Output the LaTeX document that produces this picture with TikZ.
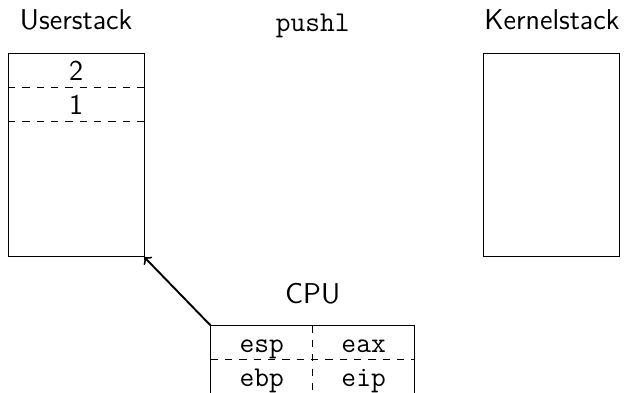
\documentclass[tikz,border=0pt,12pt]{standalone}

\begin{document}
\begin{tikzpicture}[font=\sffamily, every node/.style={anchor=base}]
    \useasboundingbox (0,0) rectangle (9.21,-5.77);

    \coordinate (user_top_left) at (0.12,-0.78);
    \coordinate (user_bottom_right) at (2.12,-3.78);
    \coordinate (user_row1_left) at (0.12,-1.28);
    \coordinate (user_row1_right) at (2.12,-1.28);
    \coordinate (user_row2_left) at (0.12,-1.78);
    \coordinate (user_row2_right) at (2.12,-1.78);
    \coordinate (kernel_top_left) at (7.12,-0.78);
    \coordinate (kernel_bottom_right) at (9.12,-3.78);

    \coordinate (cpu_top_left) at (3.1,-4.79);
    \coordinate (cpu_top_mid) at (4.6,-4.79);
    \coordinate (cpu_top_right) at (6.1,-4.79);
    \coordinate (cpu_mid_left) at (3.1,-5.29);
    \coordinate (cpu_mid_right) at (6.1,-5.29);
    \coordinate (cpu_bottom_left) at (3.1,-5.79);
    \coordinate (cpu_bottom_mid) at (4.6,-5.79);
    \coordinate (cpu_bottom_right) at (6.1,-5.79);

    \node (user_label) at (1.12,-0.43) {Userstack};
    \node (kernel_label) at (8.12,-0.43) {Kernelstack};
    \node (instr) at (4.6,-0.47) {\texttt{pushl}};
    \node (cpu_label) at (4.6,-4.46) {CPU};

    \path[draw=black] (user_top_left) rectangle (user_bottom_right);
    \path[draw=black, dashed] (user_row1_left) -- (user_row1_right);
    \path[draw=black, dashed] (user_row2_left) -- (user_row2_right);
    \node (user_two) at (1.12,-1.18) {2};
    \node (user_one) at (1.12,-1.69) {1};

    \path[draw=black] (kernel_top_left) rectangle (kernel_bottom_right);

    \path[draw=black] (cpu_bottom_left) -- (cpu_top_left) -- (cpu_top_right) -- (cpu_bottom_right);
    \path[draw=black, dashed] (cpu_mid_left) -- (cpu_mid_right);
    \path[draw=black, dashed] (cpu_top_mid) -- (cpu_bottom_mid);
    \node (reg_esp) at (3.85,-5.18) {\texttt{esp}};
    \node (reg_eax) at (5.35,-5.18) {\texttt{eax}};
    \node (reg_ebp) at (3.85,-5.69) {\texttt{ebp}};
    \node (reg_eip) at (5.35,-5.69) {\texttt{eip}};

    \path[draw=black, thick, ->] (cpu_top_left) -- (user_bottom_right);

\end{tikzpicture}
\end{document}
